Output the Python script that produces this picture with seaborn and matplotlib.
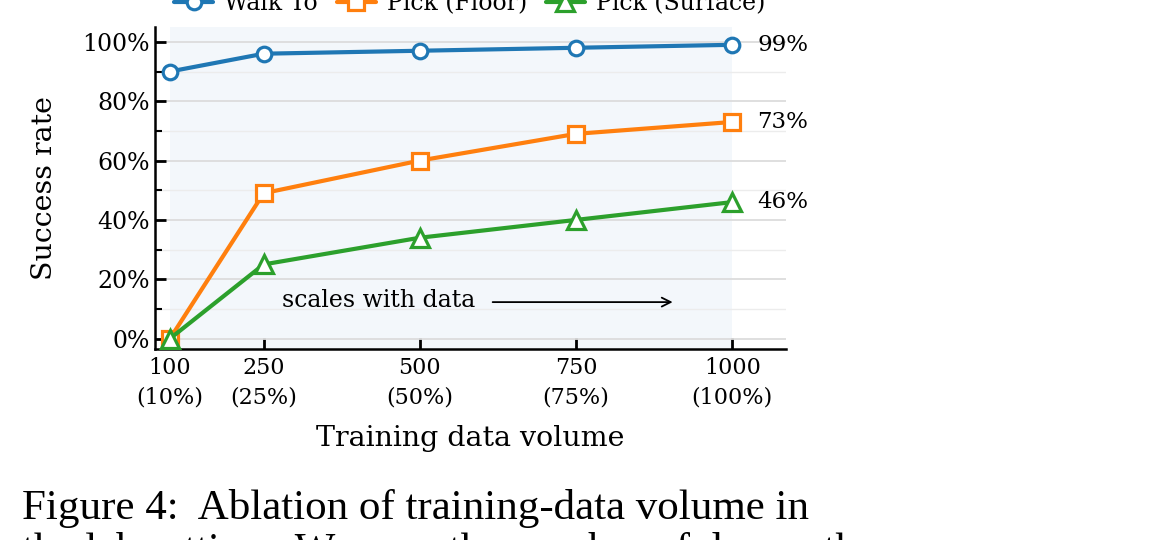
import numpy as np
import pandas as pd
import matplotlib
matplotlib.use("Agg")
import matplotlib.pyplot as plt
from matplotlib.lines import Line2D
from matplotlib.ticker import MultipleLocator, PercentFormatter
import seaborn as sns

OUTPUT_PATH = "out.png"

volumes = [100, 250, 500, 750, 1000]
volume_labels = ["100\n(10%)", "250\n(25%)", "500\n(50%)", "750\n(75%)", "1000\n(100%)"]
series_names = ["Walk To", "Pick (Floor)", "Pick (Surface)"]
walk_to = [90, 96, 97, 98, 99]
pick_floor = [0, 49, 60, 69, 73]
pick_surface = [0, 25, 34, 40, 46]

colors = ["#1f77b4", "#ff7f0e", "#2ca02c"]
markers = ["o", "s", "^"]

caption_1 = "Figure 4:  Ablation of training-data volume in"
caption_2 = "the lab setting.  We vary the number of demos the"


def main():
    sns.set_theme(style="ticks")
    plt.rcParams["font.family"] = ["DejaVu Serif"]
    plt.rcParams["mathtext.fontset"] = "dejavuserif"
    for key in ["text.color", "axes.labelcolor", "xtick.color", "ytick.color"]:
        plt.rcParams[key] = "black"

    df = pd.DataFrame({
        "volume": volumes * 3,
        "rate": walk_to + pick_floor + pick_surface,
        "task": [n for n in series_names for _ in volumes],
    })

    fig = plt.figure(figsize=(11.6, 5.4), dpi=100)
    ax = fig.add_axes([0.1336, 0.3537, 0.5440, 0.5963])

    ax.axvspan(volumes[0], volumes[-1], color="#f3f7fb", zorder=0, lw=0)

    handles = []
    sizes = {"o": 10.5, "s": 11, "^": 12.5}
    for name, color, mk in zip(series_names, colors, markers):
        sub = df[df["task"] == name]
        style = dict(color=color, marker=mk, markersize=sizes[mk],
                     markerfacecolor="white", markeredgecolor=color,
                     markeredgewidth=2.3, linewidth=3.0)
        sns.lineplot(data=sub, x="volume", y="rate", ax=ax, zorder=3,
                     legend=False, **style)
        handles.append(Line2D([], [], label=name, **style))
        last = sub["rate"].iloc[-1]
        ax.text(1040, last, f"{last}%", va="center", ha="left", fontsize=16.5)

    ax.set_xlim(76, 1086)
    ax.set_ylim(-3.5, 105)
    ax.set_xticks(volumes)
    ax.set_xticklabels(volume_labels, fontsize=16, linespacing=1.4)
    ax.yaxis.set_major_locator(MultipleLocator(20))
    ax.yaxis.set_minor_locator(MultipleLocator(10))
    ax.yaxis.set_major_formatter(PercentFormatter(decimals=0))
    ax.tick_params(axis="y", labelsize=17)
    ax.tick_params(which="major", direction="in", length=8, width=2, color="black")
    ax.tick_params(which="minor", direction="in", length=5, width=1.5, color="black")
    ax.tick_params(axis="x", which="minor", length=0)
    ax.tick_params(axis="x", pad=6)

    ax.grid(True, which="major", axis="y", color="#dcdcdc", linewidth=1.3, zorder=1)
    ax.grid(True, which="minor", axis="y", color="#ececec", linewidth=1.0, zorder=1)
    ax.set_axisbelow(True)

    for side in ["top", "right"]:
        ax.spines[side].set_visible(False)
    for side in ["left", "bottom"]:
        ax.spines[side].set_linewidth(1.8)
        ax.spines[side].set_color("black")

    ax.set_xlabel("Training data volume", fontsize=20.5, labelpad=12)
    ax.set_ylabel("Success rate", fontsize=20.5, labelpad=18)

    ax.text(279, 13, "scales with data", fontsize=17, va="center", ha="left")
    ax.annotate("", xy=(909, 12.3), xytext=(612, 12.3),
                arrowprops=dict(arrowstyle="->", color="black", lw=1.3,
                                mutation_scale=16))

    fig.legend(handles=handles, loc="center", bbox_to_anchor=(0.405, 0.993),
               ncol=3, frameon=False, fontsize=17, handlelength=1.65,
               handletextpad=0.47, columnspacing=0.8)

    fig.text(0.019, 0.039, caption_1, fontfamily="Liberation Serif",
             fontsize=31, va="baseline", ha="left")
    fig.text(0.019, -0.04, caption_2, fontfamily="Liberation Serif",
             fontsize=31, va="baseline", ha="left")

    fig.savefig(OUTPUT_PATH, dpi=100)
    plt.close(fig)


if __name__ == "__main__":
    main()
